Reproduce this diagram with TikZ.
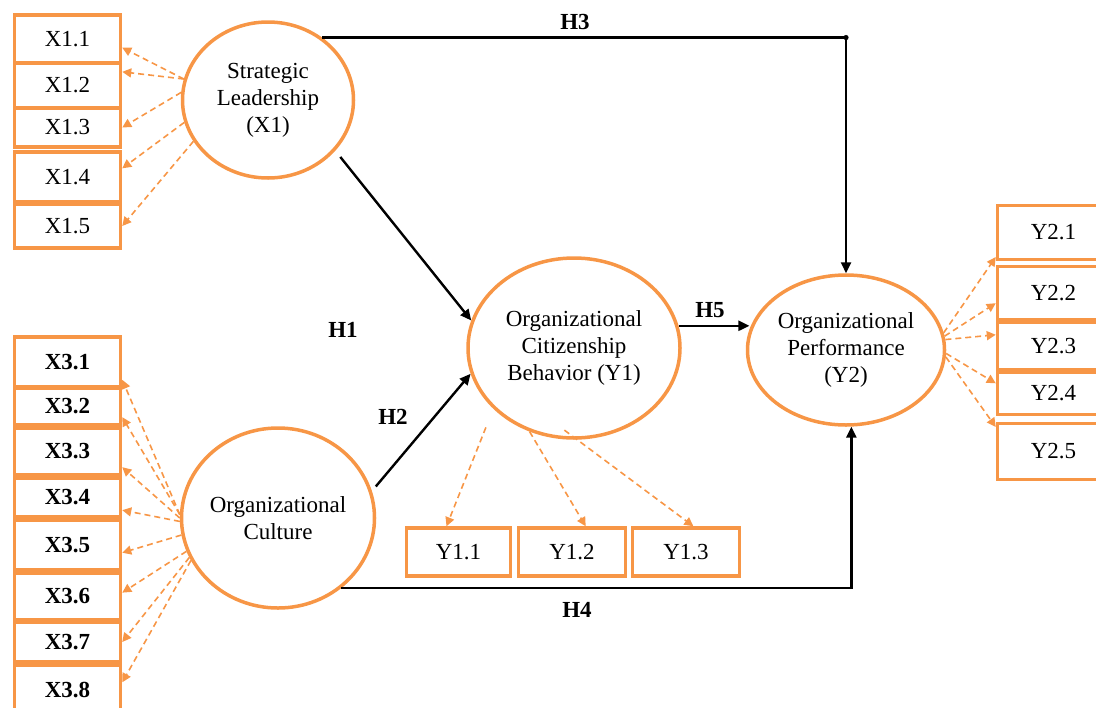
\documentclass[tikz,border=0pt]{standalone}
\usepackage{fontspec}
\setmainfont{Liberation Serif}
\usetikzlibrary{shapes.geometric, arrows.meta}
\definecolor{lvorange}{HTML}{F79646}

\begin{document}
\begin{tikzpicture}[x=0.5pt, y=-0.5pt, align=center,
    font=\fontsize{11.5}{13.5}\selectfont,
    indbox/.style={draw=lvorange, line width=1.75pt, rectangle, fill=white, inner sep=2pt},
    latent/.style={draw=lvorange, line width=1.75pt, ellipse, inner sep=0pt},
    load/.style={draw=lvorange, line width=0.8pt, dash pattern=on 3pt off 2pt, -{Triangle[length=4.5pt, width=4.5pt]}},
    hyp/.style={line width=1.2pt, -{Triangle[length=5.5pt, width=5pt]}},
    hlabel/.style={font=\fontsize{11.5}{13.5}\selectfont\bfseries}]
    \useasboundingbox (0,0) rectangle (1096,707);
    \clip (0,0) rectangle (1096,707);

    % latent variables
    \node [latent, minimum width=85.5pt, minimum height=78pt] (x1) at (268,100)
      {Strategic\\ Leadership\\ (X1)};
    \node [latent, minimum width=96.5pt, minimum height=90pt] (oc) at (278,518)
      {Organizational\\ Culture};
    \node [latent, minimum width=106pt, minimum height=90pt] (y1) at (574,348)
      {Organizational\\ Citizenship\\ Behavior (Y1)};
    \node [latent, minimum width=98.5pt, minimum height=75pt] (y2) at (846,350)
      {Organizational\\ Performance\\ (Y2)};

    % indicators of X1
    \node [indbox, minimum width=53pt, minimum height=24pt] (x11) at (67.5,39) {X1.1};
    \node [indbox, minimum width=53pt, minimum height=22.5pt] (x12) at (67.5,85.5) {X1.2};
    \node [indbox, minimum width=53pt, minimum height=19.5pt] (x13) at (67.5,127.5) {X1.3};
    \node [indbox, minimum width=53pt, minimum height=25pt] (x14) at (67.5,177) {X1.4};
    \node [indbox, minimum width=53pt, minimum height=22pt] (x15) at (67.5,226) {X1.5};

    % indicators of culture
    \node [indbox, font=\fontsize{11.5}{13.5}\selectfont\bfseries, minimum width=53pt, minimum height=25pt] (x31) at (67.5,362) {X3.1};
    \node [indbox, font=\fontsize{11.5}{13.5}\selectfont\bfseries, minimum width=53pt, minimum height=18.5pt] (x32) at (67.5,406.5) {X3.2};
    \node [indbox, font=\fontsize{11.5}{13.5}\selectfont\bfseries, minimum width=53pt, minimum height=23.5pt] (x33) at (67.5,451.5) {X3.3};
    \node [indbox, font=\fontsize{11.5}{13.5}\selectfont\bfseries, minimum width=53pt, minimum height=19.5pt] (x34) at (67.5,497.5) {X3.4};
    \node [indbox, font=\fontsize{11.5}{13.5}\selectfont\bfseries, minimum width=53pt, minimum height=25pt] (x35) at (67.5,545) {X3.5};
    \node [indbox, font=\fontsize{11.5}{13.5}\selectfont\bfseries, minimum width=53pt, minimum height=23.5pt] (x36) at (67.5,596.5) {X3.6};
    \node [indbox, font=\fontsize{11.5}{13.5}\selectfont\bfseries, minimum width=53pt, minimum height=20pt] (x37) at (67.5,642) {X3.7};
    \node [indbox, font=\fontsize{11.5}{13.5}\selectfont\bfseries, minimum width=53pt, minimum height=25pt] (x38) at (67.5,690) {X3.8};

    % indicators of Y1
    \node [indbox, minimum width=52pt, minimum height=24pt] (y11) at (458.5,552) {Y1.1};
    \node [indbox, minimum width=53.5pt, minimum height=24pt] (y12) at (572,552) {Y1.2};
    \node [indbox, minimum width=53.5pt, minimum height=24pt] (y13) at (686,552) {Y1.3};

    % indicators of Y2
    \node [indbox, minimum width=56pt, minimum height=27pt] (y21) at (1053.5,232.5) {Y2.1};
    \node [indbox, minimum width=56pt, minimum height=26.5pt] (y22) at (1053.5,293) {Y2.2};
    \node [indbox, minimum width=56pt, minimum height=23.5pt] (y23) at (1053.5,346) {Y2.3};
    \node [indbox, minimum width=56pt, minimum height=21pt] (y24) at (1053.5,393.5) {Y2.4};
    \node [indbox, minimum width=56pt, minimum height=28pt] (y25) at (1053.5,451.5) {Y2.5};

    % loadings
    \draw [load] (x1.166) -- (x11.-9);
    \draw [load] (x1.166) -- (x12.14);
    \draw [load] (x1.175) -- (x13.east);
    \draw [load] (x1.195) -- (x14.9);
    \draw [load] (x1.209) -- (x15.east);

    \draw [load] (oc.178) -- (x31.-18);
    \draw [load] (oc.178) -- (x32.-11);
    \draw [load] (oc.180) -- (x33.-16);
    \draw [load] (oc.182) -- (x34.-13);
    \draw [load] (oc.190) -- (x35.-8);
    \draw [load] (oc.200) -- (x36.4);
    \draw [load] (oc.204) -- (x37.east);
    \draw [load] (oc.206) -- (x38.8);

    \draw [load, shorten <=10pt] (y1.217) -- (y11.115);
    \draw [load] (y1.242) -- (y12.62);
    \draw [load, shorten <=-8pt] (y1.272) -- (y13.74);

    \draw [load] (y2.10) -- (y21.203);
    \draw [load] (y2.8) -- (y22.190);
    \draw [load] (y2.6) -- (y23.169);
    \draw [load] (y2.-2) -- (y24.170);
    \draw [load] (y2.-4) -- (y25.157);

    % hypotheses
    \draw [hyp] (x1.49) -| (y2.north);
    \fill (x1.49 -| y2.north) circle (1.3pt);
    \draw [hyp, shorten <=4pt] (x1.-37) -- (y1.165);
    \draw [hyp, shorten <=3pt] (oc.16) -- (y1.194);
    \draw [hyp] (oc.-48) -| (y2.-86);
    \draw [hyp] (y1.12) -- (y1.12 -| y2.168);

    \node [hlabel] (h3) at (575,22) {H3};
    \node [hlabel] (h1) at (343,330) {H1};
    \node [hlabel] (h2) at (393,417) {H2};
    \node [hlabel] (h4) at (577,610) {H4};
    \node [hlabel] (h5) at (710,310) {H5};
\end{tikzpicture}
\end{document}
